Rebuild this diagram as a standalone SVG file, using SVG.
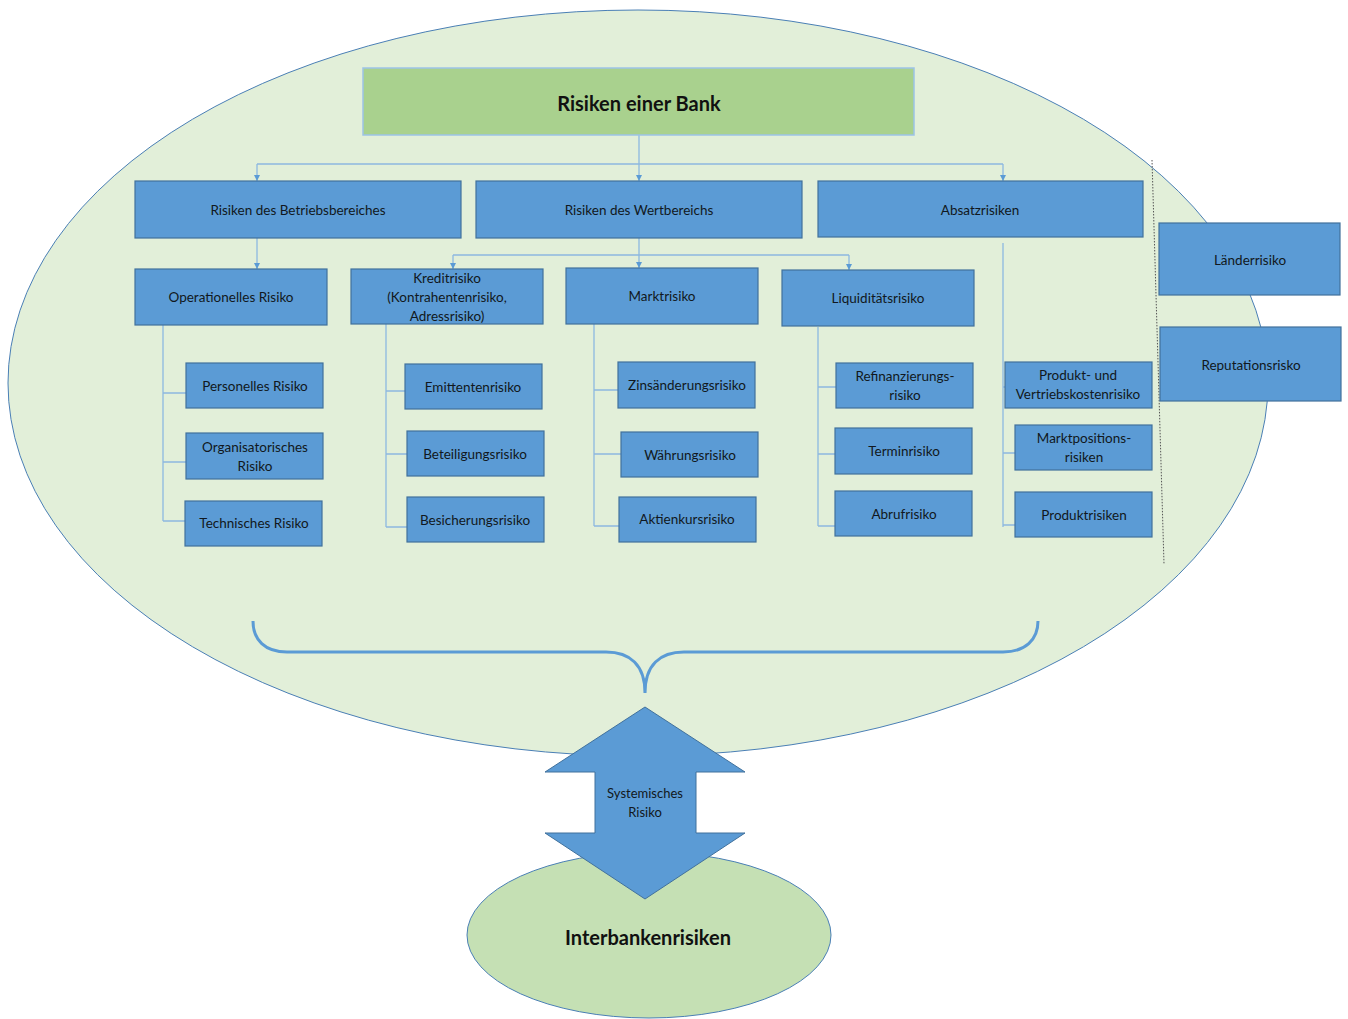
<svg xmlns="http://www.w3.org/2000/svg" width="1348" height="1019" viewBox="0 0 1348 1019">
<defs>
<style>
.box{fill:#5b9bd5;stroke:#41719c;stroke-width:1.2}
.t{font-family:Lato,"Liberation Sans",sans-serif;font-size:13.5px;fill:#111820;text-anchor:middle;dominant-baseline:central}
.big{font-family:Lato,"Liberation Sans",sans-serif;font-size:20px;font-weight:bold;fill:#111;text-anchor:middle;dominant-baseline:central}
.c{fill:none;stroke:#8db8e0;stroke-width:1.3}
</style>
<marker id="ah" viewBox="0 0 10 10" refX="10" refY="5" markerWidth="6" markerHeight="6" orient="auto" markerUnits="userSpaceOnUse">
<path d="M0,0 L10,5 L0,10 z" fill="#5b9bd5"/>
</marker>
</defs>
<rect width="1348" height="1019" fill="#ffffff"/>
<g id="bank-ellipse"><ellipse cx="638" cy="383" rx="630" ry="373" fill="#e2efd9" stroke="#4a7fb5" stroke-width="1"/></g>
<g id="interbank"><ellipse cx="649" cy="935" rx="182" ry="83" fill="#c5e0b4" stroke="#4a7fb5" stroke-width="1"/>
<text class="big" x="648" y="937">Interbankenrisiken</text></g>
<g id="divider"><line x1="1152" y1="160" x2="1164" y2="564" stroke="#555" stroke-width="1" stroke-dasharray="1.5,1.5"/></g>
<g id="connectors">
<path class="c" d="M639,135 V164 M257,164 H1003"/>
<path class="c" d="M257,164 V181" marker-end="url(#ah)"/>
<path class="c" d="M639,164 V181" marker-end="url(#ah)"/>
<path class="c" d="M1003,164 V181" marker-end="url(#ah)"/>
<path class="c" d="M257,238 V269" marker-end="url(#ah)"/>
<path class="c" d="M639,238 V255 M453,255 H849"/>
<path class="c" d="M453,255 V269" marker-end="url(#ah)"/>
<path class="c" d="M639,255 V268" marker-end="url(#ah)"/>
<path class="c" d="M849,255 V270" marker-end="url(#ah)"/>
<path class="c" d="M163,325 V521 M163,393 H186 M163,462 H186 M163,521 H185"/>
<path class="c" d="M386,324 V527 M386,391 H405 M386,454 H407 M386,527 H407"/>
<path class="c" d="M594,324 V526 M594,390 H618 M594,454 H621 M594,526 H619"/>
<path class="c" d="M818,327 V526 M818,387 H836 M818,454 H835 M818,526 H835"/>
<path class="c" d="M1003,243 V527 M1003,387 H1005 M1003,453 H1015 M1003,525 H1015"/>
</g>
<g id="brace"><path d="M253,621 C253,640 265,652 287,652 H606 C630,652 645,665 645,693 C645,665 660,652 684,652 H1003 C1025,652 1038,640 1038,621" fill="none" stroke="#5b9bd5" stroke-width="3"/></g>
<g id="title"><rect x="363" y="68" width="551" height="67" fill="#a9d18e" stroke="#9dc3e6" stroke-width="1.5"/>
<text class="big" x="639" y="103">Risiken einer Bank</text></g>
<g id="betrieb"><rect class="box" x="135" y="181" width="326" height="57"/><text class="t" x="298" y="210">Risiken des Betriebsbereiches</text></g>
<g id="wert"><rect class="box" x="476" y="181" width="326" height="57"/><text class="t" x="639" y="210">Risiken des Wertbereichs</text></g>
<g id="absatz"><rect class="box" x="818" y="181" width="325" height="56"/><text class="t" x="980" y="210">Absatzrisiken</text></g>
<g id="operationell"><rect class="box" x="135" y="269" width="192" height="56"/><text class="t" x="231" y="297">Operationelles Risiko</text></g>
<g id="kredit"><rect class="box" x="351" y="269" width="192" height="55"/><text class="t" x="447" y="278">Kreditrisiko</text><text class="t" x="447" y="297">(Kontrahentenrisiko,</text><text class="t" x="447" y="316">Adressrisiko)</text></g>
<g id="markt"><rect class="box" x="566" y="268" width="192" height="56"/><text class="t" x="662" y="296">Marktrisiko</text></g>
<g id="liquiditaet"><rect class="box" x="782" y="270" width="192" height="56"/><text class="t" x="878" y="298">Liquiditätsrisiko</text></g>
<g id="personell"><rect class="box" x="186" y="363" width="137" height="45"/><text class="t" x="255" y="386">Personelles Risiko</text></g>
<g id="organisatorisch"><rect class="box" x="186" y="433" width="137" height="46"/><text class="t" x="255" y="447">Organisatorisches</text><text class="t" x="255" y="466">Risiko</text></g>
<g id="technisch"><rect class="box" x="185" y="501" width="137" height="45"/><text class="t" x="254" y="523">Technisches Risiko</text></g>
<g id="emittent"><rect class="box" x="405" y="364" width="137" height="45"/><text class="t" x="473" y="387">Emittentenrisiko</text></g>
<g id="beteiligung"><rect class="box" x="407" y="431" width="137" height="45"/><text class="t" x="475" y="454">Beteiligungsrisiko</text></g>
<g id="besicherung"><rect class="box" x="407" y="497" width="137" height="45"/><text class="t" x="475" y="520">Besicherungsrisiko</text></g>
<g id="zins"><rect class="box" x="618" y="362" width="137" height="46"/><text class="t" x="687" y="385">Zinsänderungsrisiko</text></g>
<g id="waehrung"><rect class="box" x="621" y="432" width="137" height="45"/><text class="t" x="690" y="455">Währungsrisiko</text></g>
<g id="aktien"><rect class="box" x="619" y="497" width="137" height="45"/><text class="t" x="687" y="519">Aktienkursrisiko</text></g>
<g id="refinanzierung"><rect class="box" x="836" y="363" width="137" height="45"/><text class="t" x="905" y="376">Refinanzierungs-</text><text class="t" x="905" y="395">risiko</text></g>
<g id="termin"><rect class="box" x="835" y="428" width="137" height="46"/><text class="t" x="904" y="451">Terminrisiko</text></g>
<g id="abruf"><rect class="box" x="835" y="491" width="137" height="45"/><text class="t" x="904" y="514">Abrufrisiko</text></g>
<g id="produkt-vertrieb"><rect class="box" x="1005" y="362" width="147" height="46"/><text class="t" x="1078" y="375">Produkt- und</text><text class="t" x="1078" y="394">Vertriebskostenrisiko</text></g>
<g id="marktposition"><rect class="box" x="1015" y="425" width="137" height="45"/><text class="t" x="1084" y="438">Marktpositions-</text><text class="t" x="1084" y="457">risiken</text></g>
<g id="produktrisiken"><rect class="box" x="1015" y="492" width="137" height="45"/><text class="t" x="1084" y="515">Produktrisiken</text></g>
<g id="laender"><rect class="box" x="1159" y="223" width="181" height="72"/><text class="t" x="1250" y="260">Länderrisiko</text></g>
<g id="reputation"><rect class="box" x="1160" y="327" width="181" height="74"/><text class="t" x="1251" y="365">Reputationsrisko</text></g>
<g id="systemisch"><path d="M645,707 L745,772 H696 V833 H745 L645,899 L545,833 H595 V772 H545 Z" fill="#5b9bd5" stroke="#41719c" stroke-width="1"/>
<text class="t" x="645" y="793" style="font-size:13px">Systemisches</text><text class="t" x="645" y="812" style="font-size:13px">Risiko</text></g>
</svg>
